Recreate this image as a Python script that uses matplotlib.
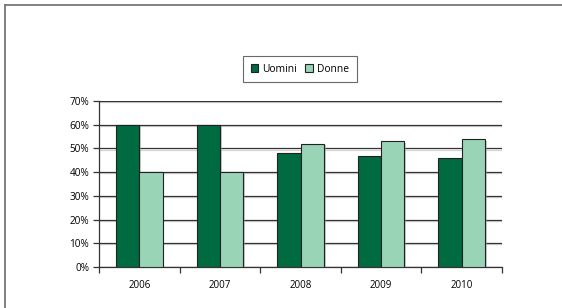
import matplotlib
matplotlib.use("Agg")
import matplotlib.pyplot as plt
import numpy as np
from matplotlib.lines import Line2D
from matplotlib.patches import Patch
import matplotlib.patheffects as pe

years = ["2006", "2007", "2008", "2009", "2010"]
uomini = [60, 60, 48, 47, 46]
donne = [40, 40, 52, 53, 54]
series_names = ["Uomini", "Donne"]
yticks = [0, 10, 20, 30, 40, 50, 60, 70]

W, H = 562, 308
fig = plt.figure(figsize=(W / 100, H / 100), dpi=100)
plt.rcParams['font.family'] = ['Open Sans', 'DejaVu Sans']

ax = fig.add_axes([99 / W, 1 - 267 / H, (502 - 99) / W, (267 - 101) / H])

dark = "#006B41"
light = "#9AD4B7"
x = np.arange(len(years))
bw = 0.29
shadow = [pe.SimplePatchShadow(offset=(1.2, -1.2), shadow_rgbFace="#999999", alpha=0.5), pe.Normal()]
b1 = ax.bar(x - bw / 2, uomini, bw, color=dark, edgecolor="#222222", linewidth=0.8, zorder=3)
b2 = ax.bar(x + bw / 2, donne, bw, color=light, edgecolor="#222222", linewidth=0.8, zorder=3)
for b in list(b1) + list(b2):
    b.set_path_effects(shadow)

ax.set_xlim(-0.5, len(years) - 0.5)
ax.set_ylim(0, 70)
ax.set_yticks(yticks)
ax.set_yticklabels([f"{v}%" for v in yticks], fontsize=7.2)
ax.yaxis.grid(True, color="#333333", linewidth=0.9, zorder=0,
              path_effects=[pe.SimpleLineShadow(offset=(0, -0.8), shadow_color="#aaaaaa", alpha=0.5), pe.Normal()])
ax.set_axisbelow(True)

ax.set_xticks(x)
ax.set_xticklabels(years, fontsize=7)
ax.tick_params(axis="x", length=0, pad=9)
ax.set_xticks(np.arange(-0.5, len(years), 1.0), minor=True)
ax.tick_params(axis="x", which="minor", length=4, direction="out", color="#333333", width=0.9)
ax.tick_params(axis="y", length=4, direction="out", color="#333333", width=0.9, pad=3)

for s in ["top", "right"]:
    ax.spines[s].set_visible(False)
for s in ["left", "bottom"]:
    ax.spines[s].set_color("#333333")
    ax.spines[s].set_linewidth(0.9)

handles = [Patch(facecolor=dark, edgecolor="#222222", linewidth=0.8),
           Patch(facecolor=light, edgecolor="#222222", linewidth=0.8)]
leg = fig.legend(handles, series_names, loc="center", bbox_to_anchor=(300 / W, 1 - 69 / H),
                 ncol=2, fontsize=7.4, frameon=True, fancybox=False, edgecolor="#444444",
                 handlelength=0.75, handleheight=0.75, handletextpad=0.4, columnspacing=0.8,
                 borderpad=0.75, borderaxespad=0)
leg.get_frame().set_linewidth(0.8)

fig.add_artist(Line2D([5 / W, 1.0], [1 - 5 / H, 1 - 5 / H], transform=fig.transFigure, color="#777777", linewidth=1.3))
fig.add_artist(Line2D([5 / W, 5 / W], [0, 1 - 5 / H], transform=fig.transFigure, color="#777777", linewidth=1.3))

fig.savefig("out.png", dpi=100)
